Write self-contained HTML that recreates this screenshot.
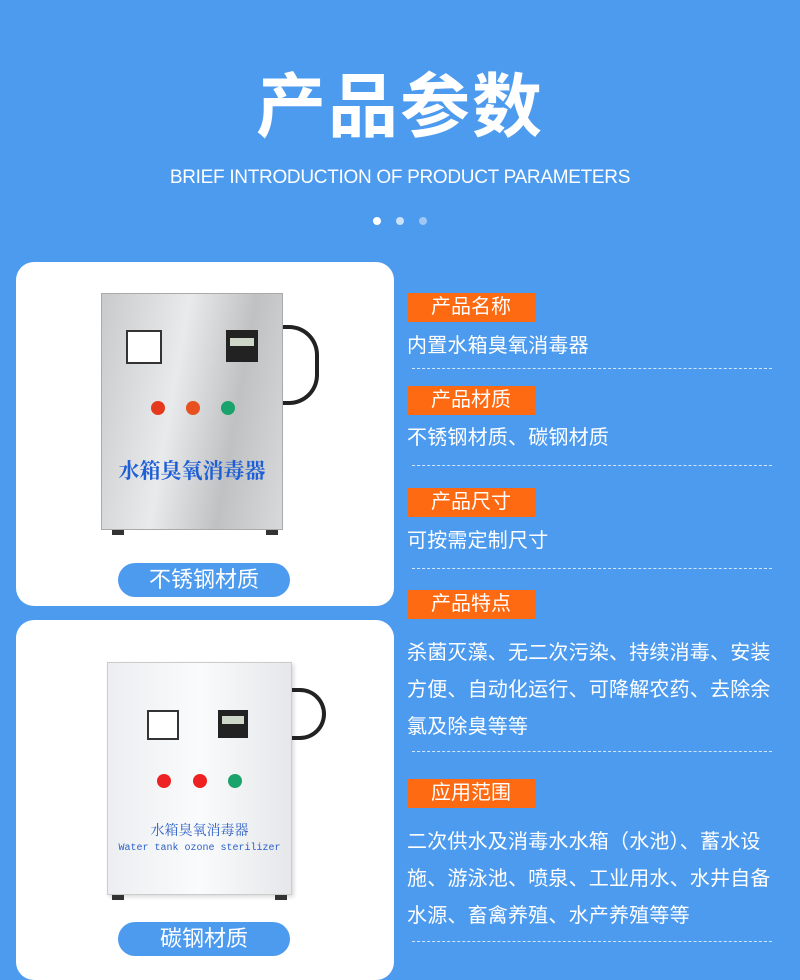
<!DOCTYPE html>
<html><head><meta charset="utf-8"><style>
*{margin:0;padding:0;box-sizing:border-box}
body{width:800px;height:966px;background:#4d9bef;position:relative;overflow:hidden;font-family:"Liberation Sans","Noto Sans CJK SC",sans-serif;color:#fff}
.a{position:absolute}
.title{left:0;width:800px;top:62px;text-align:center;font-size:70px;font-weight:bold;line-height:90px;letter-spacing:2px}
.sub{left:0;width:800px;top:165px;text-align:center;font-size:19px;line-height:26px;letter-spacing:-0.3px}
.dot{width:8px;height:8px;border-radius:50%;top:217px}
.card{left:16px;width:378px;background:#fff;border-radius:18px}
.pill{left:118px;width:172px;height:34px;border-radius:17px;background:#4d9bef;font-size:22px;line-height:34px;text-align:center}
.tag{left:407px;width:128px;height:29px;background:#fd6a12;font-size:20px;line-height:29px;text-align:center}
.txt{left:407px;font-size:20px;line-height:37px;width:372px;letter-spacing:0.2px}
.dash{left:412px;width:360px;height:0;border-top:1.5px dashed rgba(255,255,255,.75)}
.btn{width:14px;height:14px;border-radius:50%}
</style></head><body>
<div class="a title">产品参数</div>
<div class="a sub">BRIEF INTRODUCTION OF PRODUCT PARAMETERS</div>
<div class="a dot" style="left:373px;background:#fff"></div>
<div class="a dot" style="left:396px;background:rgba(255,255,255,.7)"></div>
<div class="a dot" style="left:419px;background:rgba(255,255,255,.45)"></div>

<div class="a card" style="top:262px;height:344px"></div>
<div class="a" style="left:101px;top:293px;width:182px;height:237px;background:linear-gradient(100deg,#c9cacc,#e9eaeb 40%,#bfc1c3 70%,#d8d9da);border:1px solid #aaa"></div>
<div class="a" style="left:126px;top:330px;width:36px;height:34px;background:#fff;border:2px solid #333"></div>
<div class="a" style="left:226px;top:330px;width:32px;height:32px;background:#222"></div>
<div class="a" style="left:230px;top:338px;width:24px;height:8px;background:#cfd8c8"></div>
<div class="a btn" style="left:151px;top:401px;background:#e43a1b"></div>
<div class="a btn" style="left:186px;top:401px;background:#e8501f"></div>
<div class="a btn" style="left:221px;top:401px;background:#1aa36a"></div>
<div class="a" style="left:283px;top:325px;width:36px;height:80px;border:4px solid #222;border-left:none;border-radius:0 30px 30px 0"></div>
<div class="a" style="left:101px;top:455px;width:182px;text-align:center;font-family:'Liberation Serif','Noto Serif CJK SC',serif;font-weight:bold;font-size:21px;color:#1f5fd6">水箱臭氧消毒器</div>
<div class="a" style="left:112px;top:530px;width:12px;height:5px;background:#333"></div>
<div class="a" style="left:266px;top:530px;width:12px;height:5px;background:#333"></div>
<div class="a pill" style="top:563px">不锈钢材质</div>

<div class="a card" style="top:620px;height:360px"></div>
<div class="a" style="left:107px;top:662px;width:185px;height:233px;background:linear-gradient(90deg,#eceef1,#fafbfc 50%,#e5e7ea);border:1px solid #ccc;box-shadow:2px 2px 4px rgba(0,0,0,.15)"></div>
<div class="a" style="left:147px;top:710px;width:32px;height:30px;background:#fff;border:2px solid #333"></div>
<div class="a" style="left:218px;top:710px;width:30px;height:28px;background:#222"></div>
<div class="a" style="left:222px;top:716px;width:22px;height:8px;background:#cfd8c8"></div>
<div class="a btn" style="left:157px;top:774px;background:#e22"></div>
<div class="a btn" style="left:193px;top:774px;background:#e22"></div>
<div class="a btn" style="left:228px;top:774px;background:#1aa36a"></div>
<div class="a" style="left:292px;top:688px;width:34px;height:52px;border:4px solid #222;border-left:none;border-radius:0 26px 26px 0"></div>
<div class="a" style="left:107px;top:820px;width:185px;text-align:center;font-family:'Liberation Serif','Noto Serif CJK SC',serif;font-size:14px;color:#2b5fc7">水箱臭氧消毒器</div>
<div class="a" style="left:107px;top:843px;width:185px;text-align:center;font-family:'Liberation Mono',monospace;font-size:10px;color:#2b5fc7">Water tank ozone sterilizer</div>
<div class="a" style="left:112px;top:895px;width:12px;height:5px;background:#333"></div>
<div class="a" style="left:275px;top:895px;width:12px;height:5px;background:#333"></div>
<div class="a pill" style="top:922px">碳钢材质</div>

<div class="a tag" style="top:293px">产品名称</div>
<div class="a txt" style="top:328px">内置水箱臭氧消毒器</div>
<div class="a dash" style="top:368px"></div>
<div class="a tag" style="top:386px">产品材质</div>
<div class="a txt" style="top:420px">不锈钢材质、碳钢材质</div>
<div class="a dash" style="top:465px"></div>
<div class="a tag" style="top:488px">产品尺寸</div>
<div class="a txt" style="top:523px">可按需定制尺寸</div>
<div class="a dash" style="top:568px"></div>
<div class="a tag" style="top:590px">产品特点</div>
<div class="a txt" style="top:635px">杀菌灭藻、无二次污染、持续消毒、安装<br>方便、自动化运行、可降解农药、去除余<br>氯及除臭等等</div>
<div class="a dash" style="top:751px"></div>
<div class="a tag" style="top:779px">应用范围</div>
<div class="a txt" style="top:824px">二次供水及消毒水水箱（水池）、蓄水设<br>施、游泳池、喷泉、工业用水、水井自备<br>水源、畜禽养殖、水产养殖等等</div>
<div class="a dash" style="top:941px"></div>
</body></html>
